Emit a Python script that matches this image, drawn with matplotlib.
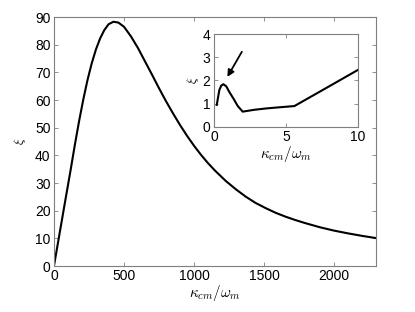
import numpy as np
import matplotlib
matplotlib.use('Agg')
import matplotlib.pyplot as plt

plt.rcParams['font.family'] = ['Liberation Sans', 'DejaVu Sans']
plt.rcParams['mathtext.fontset'] = 'cm'

# main curve
kappa = [0, 40, 80, 120, 150, 180, 210, 240, 270, 300, 330, 360, 390, 425, 460,
         500, 550, 600, 650, 700, 750, 800, 850, 900, 950, 1000, 1050, 1100,
         1150, 1226, 1300, 1369, 1440, 1513, 1585, 1656, 1725, 1795, 1900,
         2000, 2100, 2200, 2300]
xi = [0, 11.7, 23.4, 35.0, 44.0, 52.5, 60.3, 67.3, 73.3, 78.3, 82.3, 85.3, 87.4, 88.3, 88.0,
      86.5, 83.0, 78.8, 74.0, 69.2, 64.3, 59.6, 55.2, 51.0, 47.1, 43.5, 40.2, 37.2,
      34.5, 30.8, 27.7, 25.1, 22.8, 20.9, 19.2, 17.8, 16.6, 15.5, 14.0,
      12.8, 11.8, 10.9, 10.1]

# inset curve
kappa_in = [0.19, 0.37, 0.5, 0.65, 0.85, 1.05, 1.34, 1.65, 1.99, 2.8, 3.66, 4.6, 5.58, 7.8, 9.98]
xi_in = [0.95, 1.59, 1.78, 1.84, 1.75, 1.52, 1.23, 0.9, 0.66, 0.74, 0.80, 0.85, 0.90, 1.68, 2.45]

xticks = [0, 500, 1000, 1500, 2000]
yticks = list(range(0, 91, 10))
xticks_in = [0, 5, 10]
yticks_in = [0, 1, 2, 3, 4]

spine_col = '#7f7f7f'
fs = 10


def style(ax):
    for s in ax.spines.values():
        s.set_color(spine_col)
        s.set_linewidth(0.8)
    ax.tick_params(direction='in', top=True, right=True, color=spine_col,
                   labelsize=fs, length=3, width=0.6, pad=2.5)


fig = plt.figure(figsize=(4.15, 3.12), dpi=100)
ax = fig.add_axes([0.130, 0.1474, 0.776, 0.798])
ax.plot(kappa, xi, color='black', lw=1.5)
ax.set_xlim(0, 2300)
ax.set_ylim(0, 90)
ax.set_xticks(xticks)
ax.set_yticks(yticks)
style(ax)
ax.set_xlabel(r'$\kappa_{cm}/\omega_m$', fontsize=11, labelpad=0)
ax.set_ylabel(r'$\xi$', fontsize=9, labelpad=5)

ins = fig.add_axes([0.5157, 0.593, 0.347, 0.298])
ins.plot(kappa_in, xi_in, color='black', lw=1.5)
ins.set_xlim(0, 10)
ins.set_ylim(0, 4)
ins.set_xticks(xticks_in)
ins.set_yticks(yticks_in)
style(ins)
ins.set_xlabel(r'$\kappa_{cm}/\omega_m$', fontsize=11, labelpad=0)
ins.set_ylabel(r'$\xi$', fontsize=9, labelpad=1)
ins.annotate('', xy=(0.83, 2.05), xytext=(2.03, 3.34),
             arrowprops=dict(arrowstyle='-|>', color='black', lw=1.3,
                             mutation_scale=10))

fig.savefig('out.png', dpi=100)
